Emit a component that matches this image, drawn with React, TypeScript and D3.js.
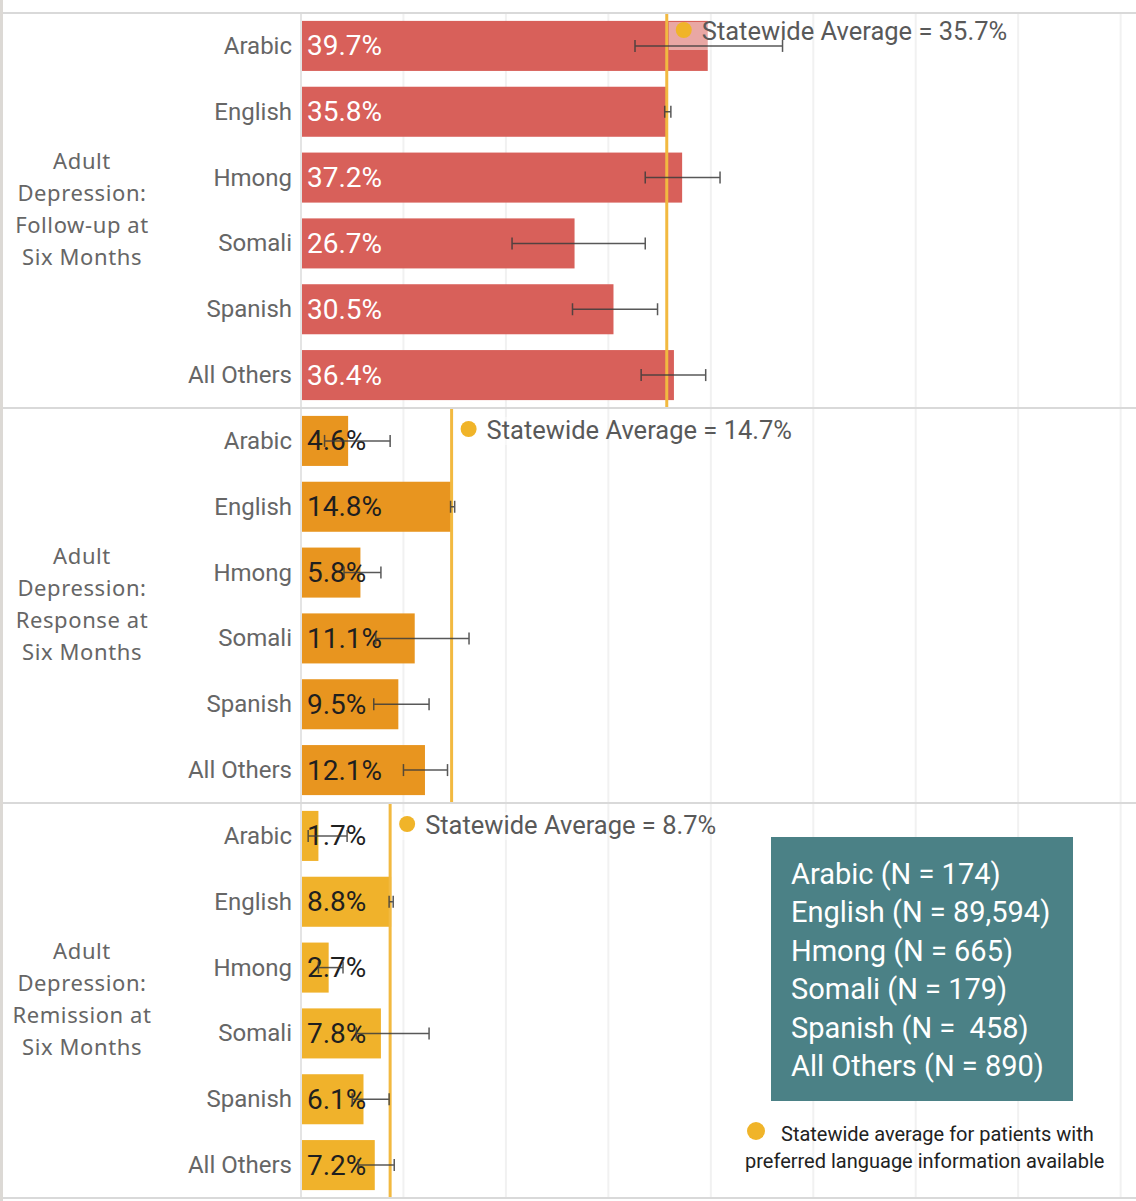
import React from "react";
import * as d3 from "d3";

const languages = ["Arabic", "English", "Hmong", "Somali", "Spanish", "All Others"];
const measures = [
  ["Adult", "Depression:", "Follow-up at", "Six Months"],
  ["Adult", "Depression:", "Response at", "Six Months"],
  ["Adult", "Depression:", "Remission at", "Six Months"],
];
const followUpValues = [39.7, 35.8, 37.2, 26.7, 30.5, 36.4];
const followUpLow = [32.6, 35.5, 33.6, 20.6, 26.5, 33.2];
const followUpHigh = [47.0, 36.1, 40.9, 33.6, 34.8, 39.5];
const responseValues = [4.6, 14.8, 5.8, 11.1, 9.5, 12.1];
const responseLow = [2.3, 14.6, 4.2, 7.3, 7.1, 10.0];
const responseHigh = [8.7, 15.0, 7.8, 16.4, 12.5, 14.3];
const remissionValues = [1.7, 8.8, 2.7, 7.8, 6.1, 7.2];
const remissionLow = [0.7, 8.6, 1.7, 5.4, 5.0, 5.6];
const remissionHigh = [4.5, 9.0, 4.1, 12.5, 8.6, 9.1];
const statewideAverages = [35.7, 14.7, 8.7];
const legendLines = [
  "Arabic (N = 174)",
  "English (N = 89,594)",
  "Hmong (N = 665)",
  "Somali (N = 179)",
  "Spanish (N =\u00a0 458)",
  "All Others (N = 890)",
];
const gridTicks = [10, 20, 30, 40, 50, 60, 70, 80];

const panelColors = ["#D8605A", "#E8951F", "#F0B22B"];
const valueTextColors = ["#ffffff", "#1f1f1f", "#1f1f1f"];

const W = 1136;
const H = 1201;
const panelTop = 13;
const panelH = 395;
const FONT = "Roboto, 'Noto Sans', sans-serif";

export default function App() {
  const x = d3.scaleLinear().domain([0, 81.5]).range([301, 1136]);
  const panels = [
    { values: followUpValues, low: followUpLow, high: followUpHigh },
    { values: responseValues, low: responseLow, high: responseHigh },
    { values: remissionValues, low: remissionLow, high: remissionHigh },
  ];

  return (
    <svg
      width={W}
      height={H}
      style={{ position: "absolute", left: 0, top: 0, background: "#fff" }}
      fontFamily={FONT}
    >
      <rect x={0} y={0} width={W} height={H} fill="#fff" />
      <rect x={0} y={0} width={3} height={H} fill="#dcd9d5" />
      {panels.map((p, pi) => {
        const top = panelTop + pi * panelH;
        const y = d3
          .scaleBand()
          .domain(languages)
          .range([top, top + panelH])
          .paddingInner(0.24)
          .paddingOuter(0.12);
        const avgX = x(statewideAverages[pi]);
        const centerY = top + panelH / 2;
        const labelY = top + (pi === 0 ? 18 : 22);
        return (
          <g key={pi}>
            {gridTicks.map((t) => (
              <line
                key={t}
                x1={x(t)}
                x2={x(t)}
                y1={top}
                y2={top + panelH}
                stroke="#f1f1f1"
                strokeWidth={2}
              />
            ))}
            {measures[pi].map((line, li) => (
              <text
                key={li}
                x={82}
                y={centerY - 3 + (li - 1.5) * 32}
                textAnchor="middle"
                dominantBaseline="central"
                fontSize={22}
                fill="#666"
                fontFamily="'Noto Sans', sans-serif"
                letterSpacing={0.6}
              >
                {line}
              </text>
            ))}
            {languages.map((lang, i) => {
              const by = y(lang)!;
              const bh = y.bandwidth();
              const cy = by + bh / 2;
              return (
                <g key={lang}>
                  <text
                    x={292}
                    y={cy}
                    textAnchor="end"
                    dominantBaseline="central"
                    fontSize={24}
                    fill="#666"
                  >
                    {lang}
                  </text>
                  <rect
                    x={x(0)}
                    y={by}
                    width={x(p.values[i]) - x(0)}
                    height={bh}
                    fill={panelColors[pi]}
                  />
                  <text
                    x={x(0) + 6}
                    y={cy}
                    dominantBaseline="central"
                    fontSize={28}
                    fill={valueTextColors[pi]}
                  >
                    {p.values[i].toFixed(1) + "%"}
                  </text>
                </g>
              );
            })}
            <line
              x1={avgX}
              x2={avgX}
              y1={top}
              y2={top + panelH}
              stroke="#F2B940"
              strokeWidth={3}
            />
            <rect
              x={avgX + 2}
              y={top + 9}
              width={118}
              height={28}
              fill="#fff"
              opacity={0.45}
            />
            {languages.map((lang, i) => {
              const cy = y(lang)! + y.bandwidth() / 2;
              return (
                <g key={"e" + lang} stroke="#3c3c3c" strokeWidth={1.5} opacity={0.85}>
                  <line x1={x(p.low[i])} x2={x(p.high[i])} y1={cy} y2={cy} />
                  <line x1={x(p.low[i])} x2={x(p.low[i])} y1={cy - 6} y2={cy + 6} />
                  <line x1={x(p.high[i])} x2={x(p.high[i])} y1={cy - 6} y2={cy + 6} />
                </g>
              );
            })}
            <circle cx={avgX + 17} cy={labelY - 1} r={8} fill="#F0B429" />
            <text
              x={avgX + 35}
              y={labelY}
              dominantBaseline="central"
              fontSize={25.5}
              fill="#595959"
            >
              {"Statewide Average = " + statewideAverages[pi].toFixed(1) + "%"}
            </text>
          </g>
        );
      })}
      <line x1={301} x2={301} y1={panelTop} y2={panelTop + 3 * panelH} stroke="#e4e4e4" strokeWidth={2} />
      {[0, 1, 2, 3].map((k) => (
        <line
          key={k}
          x1={3}
          x2={W}
          y1={panelTop + k * panelH}
          y2={panelTop + k * panelH}
          stroke="#d9d9d9"
          strokeWidth={2}
        />
      ))}
      <rect x={771} y={837} width={302} height={264} fill="#4B8186" />
      {legendLines.map((t, i) => (
        <text
          key={i}
          x={791}
          y={874 + i * 38.4}
          dominantBaseline="central"
          fontSize={29}
          fill="#fff"
        >
          {t}
        </text>
      ))}
      <circle cx={756} cy={1131} r={9} fill="#F0B429" />
      <text x={781} y={1134} dominantBaseline="central" fontSize={20} fill="#222">
        Statewide average for patients with
      </text>
      <text x={745} y={1161} dominantBaseline="central" fontSize={20} fill="#222">
        preferred language information available
      </text>
    </svg>
  );
}
